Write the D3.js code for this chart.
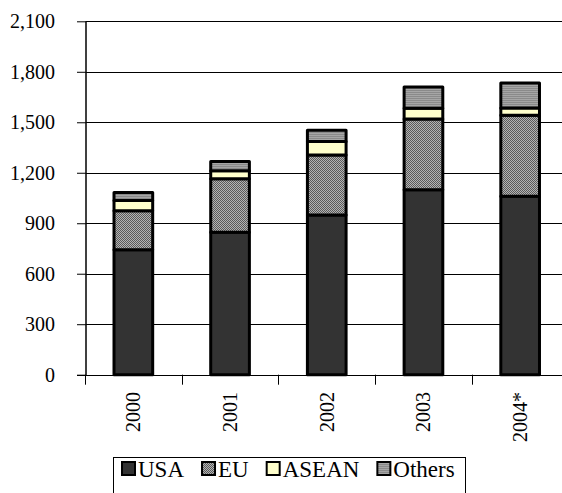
<!DOCTYPE html>
<html>
<head>
<meta charset="utf-8">
<script src="https://cdn.jsdelivr.net/npm/d3@7"></script>
<style>
  html, body { margin: 0; padding: 0; background: #fff; }
  svg { display: block; }
  svg text { font-family: "Times New Roman", "Liberation Serif", Tinos, serif !important; fill: #000; }
</style>
</head>
<body>
<svg id="chart" width="562" height="493"></svg>
<script>
// ---- Data ----
const years  = ["2000", "2001", "2002", "2003", "2004*"];
const usa    = [743, 846, 949, 1099, 1061];
const eu     = [231, 319, 357, 420, 480];
const asean  = [61, 47, 79, 64, 44];
const others = [48, 55, 67, 127, 148];
const seriesNames = ["USA", "EU", "ASEAN", "Others"];
const yTicks = [0, 300, 600, 900, 1200, 1500, 1800, 2100];

// ---- Setup ----
const FONT = '"Times New Roman", "Liberation Serif", serif';
const svg = d3.select("#chart");
const defs = svg.append("defs");

// EU: fine checker pattern
const pEU = defs.append("pattern").attr("id", "pEU")
  .attr("patternUnits", "userSpaceOnUse").attr("width", 2).attr("height", 2);
pEU.append("rect").attr("width", 2).attr("height", 2).attr("fill", "#b4b4b4");
pEU.append("rect").attr("x", 0).attr("y", 0).attr("width", 1).attr("height", 1).attr("fill", "#5a5a5a");
pEU.append("rect").attr("x", 1).attr("y", 1).attr("width", 1).attr("height", 1).attr("fill", "#5a5a5a");

// Others: horizontal fine stripes
const pOT = defs.append("pattern").attr("id", "pOT")
  .attr("patternUnits", "userSpaceOnUse").attr("width", 2).attr("height", 2);
pOT.append("rect").attr("width", 2).attr("height", 2).attr("fill", "#a6a6a6");
pOT.append("rect").attr("x", 0).attr("y", 0).attr("width", 2).attr("height", 1).attr("fill", "#8a8a8a");

const fills = ["#333333", "url(#pEU)", "#FFFFCC", "url(#pOT)"];

const x = d3.scaleBand().domain(years).range([85, 568.5]).paddingInner(0).paddingOuter(0);
const y = d3.scaleLinear().domain([0, 2100]).range([374.7, 21.3]);

const axisX = 86;

// ---- Gridlines ----
svg.append("g").selectAll("line")
  .data(yTicks.filter(d => d > 0))
  .join("line")
  .attr("x1", axisX).attr("x2", 568.5)
  .attr("y1", d => Math.round(y(d)) + 0.5)
  .attr("y2", d => Math.round(y(d)) + 0.5)
  .attr("stroke", "#000").attr("stroke-width", 1);

// ---- Stacked bars ----
const table = years.map((yr, i) => ({ year: yr, USA: usa[i], EU: eu[i], ASEAN: asean[i], Others: others[i] }));
const stack = d3.stack().keys(seriesNames)(table);
const bw = x.bandwidth() * 0.4;

svg.append("g").selectAll("g")
  .data(stack)
  .join("g")
  .attr("fill", (d, i) => fills[i])
  .selectAll("rect")
  .data(d => d)
  .join("rect")
  .attr("x", d => x(d.data.year) + (x.bandwidth() - bw) / 2)
  .attr("width", bw)
  .attr("y", d => y(d[1]))
  .attr("height", d => y(d[0]) - y(d[1]))
  .attr("stroke", "#000")
  .attr("stroke-width", 3)
  .attr("stroke-linejoin", "round");

// ---- Y axis ----
const yAxis = d3.axisLeft(y).tickValues(yTicks).tickSize(9).tickPadding(22)
  .tickFormat(d3.format(","));
const gy = svg.append("g").attr("transform", `translate(${axisX},0)`).call(yAxis)
  .attr("font-family", FONT).attr("font-size", 20);
gy.select(".domain").remove();
gy.selectAll(".tick line").attr("stroke", "#000");
gy.selectAll("text").attr("font-size", 20).attr("font-family", FONT);
svg.append("line").attr("x1", axisX).attr("x2", axisX)
  .attr("y1", y(2100)).attr("y2", y(0) + 0.5)
  .attr("stroke", "#000").attr("stroke-width", 1.5);

// ---- X axis ----
svg.append("line").attr("x1", axisX - 9).attr("x2", 568.5)
  .attr("y1", Math.round(y(0)) + 0.5).attr("y2", Math.round(y(0)) + 0.5)
  .attr("stroke", "#000").attr("stroke-width", 1.2);
const bounds = years.map(d => x(d)).concat([x(years[years.length - 1]) + x.bandwidth()]);
svg.append("g").selectAll("line").data(bounds).join("line")
  .attr("x1", d => Math.round(d) + 0.5).attr("x2", d => Math.round(d) + 0.5)
  .attr("y1", y(0)).attr("y2", y(0) + 10)
  .attr("stroke", "#000").attr("stroke-width", 1);

svg.append("g").selectAll("text").data(years).join("text")
  .attr("transform", d => `translate(${x(d) + x.bandwidth() / 2},392) rotate(-90)`)
  .attr("text-anchor", "end")
  .attr("dy", "0.35em")
  .attr("font-size", 20)
  .attr("font-family", FONT)
  .text(d => d);

// ---- Legend ----
const legFont = 23;
const lg = svg.append("g");
lg.append("rect").attr("x", 113.5).attr("y", 457.5).attr("width", 352).attr("height", 45)
  .attr("fill", "#fff").attr("stroke", "#000").attr("stroke-width", 1);
let lx = 122;
const sw = 13, gap = 18;
seriesNames.forEach((name, i) => {
  lg.append("rect").attr("x", lx).attr("y", 462).attr("width", sw).attr("height", sw)
    .attr("fill", fills[i]).attr("stroke", "#000").attr("stroke-width", 2);
  const t = lg.append("text").attr("x", lx + sw + 3).attr("y", 477)
    .attr("font-size", legFont).attr("font-family", FONT).text(name);
  lx += sw + 3 + t.node().getComputedTextLength() + gap;
});
</script>
</body>
</html>
